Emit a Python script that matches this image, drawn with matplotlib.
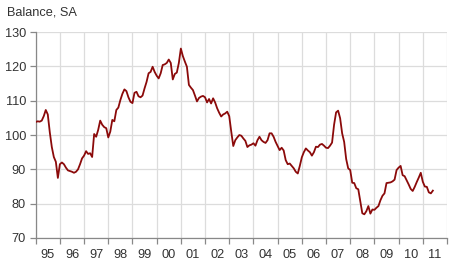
import numpy as np
import matplotlib
matplotlib.use("Agg")
import matplotlib.pyplot as plt

plt.rcParams['font.family'] = ['Liberation Sans', 'DejaVu Sans']

# monthly balance, Jan 1995 .. Jun 2011
start_year = 1995
balance = [
    # 1995
    103.8, 104.0, 103.9, 104.2, 105.5, 107.3, 106.0, 100.8, 96.5, 93.6, 92.2, 87.5,
    # 1996
    91.5, 92.0, 91.5, 90.5, 89.7, 89.5, 89.3, 89.0, 89.3, 90.0, 91.5, 93.2,
    # 1997
    94.0, 95.3, 94.5, 94.7, 93.6, 100.3, 99.5, 101.5, 104.2, 103.0, 102.3, 102.0,
    # 1998
    99.3, 101.0, 104.4, 104.0, 107.3, 108.0, 110.2, 112.0, 113.3, 112.8, 111.0, 109.7,
    # 1999
    109.3, 112.3, 112.6, 111.3, 111.0, 111.5, 113.6, 115.5, 118.0, 118.4, 119.9, 118.4,
    # 2000
    117.3, 116.5, 118.0, 120.4, 120.6, 121.0, 122.0, 121.0, 116.2, 117.8, 118.2, 121.0,
    # 2001
    125.2, 123.0, 121.4, 119.9, 114.6, 113.8, 113.1, 111.5, 109.8, 110.8, 111.2, 111.4,
    # 2002
    111.0, 109.5, 110.5, 109.2, 110.7, 109.5, 107.8, 106.5, 105.4, 106.0, 106.3, 106.8,
    # 2003
    105.5, 101.0, 96.8, 98.5, 99.3, 100.0, 99.8, 99.0, 98.3, 96.5, 97.0, 97.2,
    # 2004
    97.6, 96.9, 98.5, 99.5, 98.5, 98.0, 97.7, 98.5, 100.5, 100.5, 99.5, 98.0,
    # 2005
    96.8, 95.6, 96.3, 95.5, 92.7, 91.5, 91.7, 91.0, 90.3, 89.3, 88.8, 91.0,
    # 2006
    93.5, 95.0, 96.1, 95.5, 95.0, 94.0, 95.0, 96.6, 96.5, 97.2, 97.4, 96.9,
    # 2007
    96.3, 96.2, 96.9, 97.8, 103.0, 106.6, 107.1, 104.9, 100.5, 98.0, 93.0, 90.3,
    # 2008
    89.8, 86.1, 86.0, 84.5, 84.2, 80.6, 77.2, 76.9, 77.8, 79.3, 77.1, 78.3,
    # 2009
    78.2, 78.8, 79.3, 81.0, 82.3, 83.0, 86.0, 86.1, 86.2, 86.5, 87.0, 89.8,
    # 2010
    90.5, 91.0, 88.3, 88.0, 86.8, 85.6, 84.3, 83.7, 84.9, 86.3, 87.6, 89.0,
    # 2011
    86.4, 85.0, 84.9, 83.3, 83.0, 83.8,
]
year_labels = ['95', '96', '97', '98', '99', '00', '01', '02', '03',
               '04', '05', '06', '07', '08', '09', '10', '11']
y_ticks = [70, 80, 90, 100, 110, 120, 130]

t = start_year + np.arange(len(balance)) / 12.0

fig = plt.figure(figsize=(4.5, 2.79), dpi=100)
ax = fig.add_axes([0.0793, 0.147, 0.914, 0.738])

ax.plot(t, balance, color='#8b0a0a', linewidth=1.3, zorder=3)

ax.set_xlim(start_year, start_year + len(year_labels))
ax.set_ylim(70, 130)

ax.set_yticks(y_ticks)
ax.set_xticks(np.arange(start_year, start_year + len(year_labels) + 1))
ax.set_xticklabels([])
ax.set_xticks(np.arange(len(year_labels)) + start_year + 0.5, minor=True)
ax.set_xticklabels(year_labels, minor=True)

ax.grid(True, which='major', color='#dcdcdc', linewidth=0.9)
ax.set_axisbelow(True)

for s in ['top', 'right']:
    ax.spines[s].set_visible(False)
for s in ['left', 'bottom']:
    ax.spines[s].set_color('#888888')
    ax.spines[s].set_linewidth(0.9)

ax.tick_params(axis='y', which='major', length=4, width=0.9, color='#888888',
               labelsize=9.2, labelcolor='#333333', pad=3)
ax.tick_params(axis='x', which='major', length=4, width=0.9, color='#888888')
ax.tick_params(axis='x', which='minor', length=0, labelsize=9.2,
               labelcolor='#333333', pad=8)

fig.text(0.016, 0.955, 'Balance, SA', fontsize=9.2, color='#333333',
         va='center', ha='left')

fig.savefig('out.png', dpi=100)
